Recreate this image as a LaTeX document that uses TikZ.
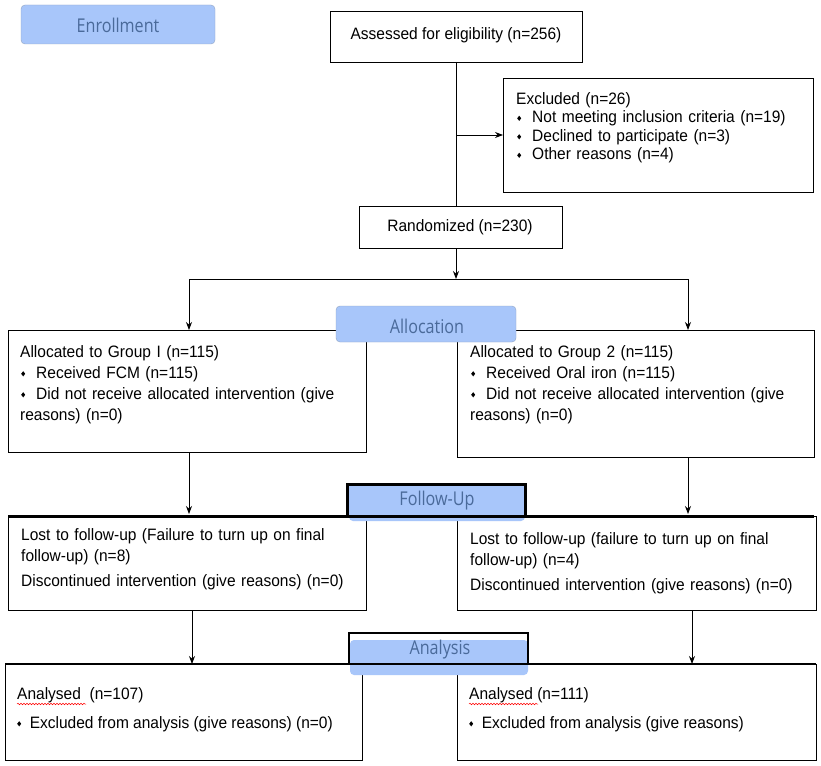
\documentclass[tikz,border=0pt]{standalone}
\usepackage{fontspec}
\setmainfont{Liberation Sans}[FakeStretch=0.94]
\newfontfamily\labfont{Open Sans}[FakeStretch=0.85]
\usetikzlibrary{arrows.meta,decorations.pathmorphing}
\definecolor{lab}{HTML}{A8C6FA}
\definecolor{labtxt}{HTML}{4A6A9A}
\newcommand{\dia}{\tikz[baseline=-0.5ex]\fill (0,2.6pt)--(2pt,0)--(0,-2.6pt)--(-2pt,0)--cycle;}
\newcommand{\itm}[1]{\par\hangindent=16pt\hangafter=1\makebox[16pt][l]{\hspace{1pt}\dia}#1}
\begin{document}
\begin{tikzpicture}[x=1pt,y=-1pt,
  box/.style={draw,line width=0.8pt,fill=white},
  txt/.style={anchor=north west,align=left,font=\fontsize{16.5}{21}\selectfont,inner sep=0pt},
  lbl/.style={draw=labtxt!60,fill=lab,rounded corners=4pt},
  lt/.style={text=labtxt,font=\labfont\fontsize{19}{22}\selectfont},
  arr/.style={-{Stealth[length=8pt,width=6pt]},line width=0.8pt},
  ln/.style={line width=0.8pt}]
\useasboundingbox (0,0) rectangle (821,765);
% enrollment
\draw[lbl] (21,5) rectangle (215,44);
\node[lt] (enr) at (118,25) {Enrollment};
% assessed
\draw[box] (330,11) rectangle (582,62); \coordinate (asb) at (456,62);
\node[txt,anchor=center] (ass) at (456,35) {Assessed for eligibility (n=256)};
\draw[box] (503,78) rectangle (813,192); \coordinate (exl) at (503,135);
\node[txt,text width=290pt,font=\fontsize{16.5}{18.5}\selectfont] (exc) at (516,92) {Excluded (n=26)\itm{Not meeting inclusion criteria (n=19)}\itm{Declined to participate (n=3)}\itm{Other reasons (n=4)}};
\draw[box] (359,206) rectangle (562,248); \coordinate (rt) at (456,206); \coordinate (rb) at (456,248);
\node[txt,anchor=center] (ran) at (460,227) {Randomized (n=230)};
\draw[ln] (asb) -- (rt);
\coordinate (br) at (456,135);
\draw[arr] (br) -- (exl);
\coordinate (hj) at (456,279);
\draw[arr] (rb) -- (hj);
\coordinate (hl) at (189,279); \coordinate (hr) at (688,279);
\coordinate (g1t) at (189,330); \coordinate (g2t) at (688,330);
\draw[arr] (hr) -- (g2t);
\draw[arr] (hr) -- (hl) -- (g1t);
% group boxes
\draw[box] (8,330) rectangle (366,452);
\draw[box] (457,330) rectangle (814,457);
\draw[lbl] (336,306) rectangle (516,342);
\node[lt] (alo) at (427,326) {Allocation};
\node[txt,text width=338pt] (g1) at (20,345) {Allocated to Group I (n=115)\itm{Received FCM (n=115)}\itm{Did not receive allocated intervention (give reasons) (n=0)}};
\node[txt,text width=334pt] (g2) at (470,345) {Allocated to Group 2 (n=115)\itm{Received Oral iron (n=115)}\itm{Did not receive allocated intervention (give reasons) (n=0)}};
% follow-up
\coordinate (f1t) at (189,514); \coordinate (f2t) at (688,514);
\draw[arr] (189,452) -- (f1t);
\draw[arr] (688,457) -- (f2t);
\draw[box] (8,516) rectangle (366,610);
\draw[box] (457,516) rectangle (816,610);
\fill[lab,rounded corners=4pt] (349,490) rectangle (525,521);
\draw[line width=3pt] (8,516) -- (814,516);
\draw[line width=3pt,fill=lab] (347,484) rectangle (525,516);
\node[lt] (fol) at (437,501) {Follow-Up};
\node[txt,text width=325pt] (f1) at (21,528) {Lost to follow-up (Failure to turn up on final follow-up) (n=8)\\[4pt]Discontinued intervention (give reasons) (n=0)};
\node[txt,text width=325pt] (f2) at (470,532) {Lost to follow-up (failure to turn up on final follow-up) (n=4)\\[4pt]Discontinued intervention (give reasons) (n=0)};
% analysis
\coordinate (a1t) at (192,664); \coordinate (a2t) at (692,664);
\draw[arr] (192,610) -- (a1t);
\draw[arr] (692,610) -- (a2t);
\draw[box] (5,664) rectangle (362,760);
\draw[box] (457,664) rectangle (816,760);
\fill[lab,rounded corners=4pt] (350,640) rectangle (528,675);
\draw[line width=2pt] (5,664) -- (816,664);
\draw[line width=2.5pt] (349,664) -- (349,633) -- (528,633) -- (528,664);
\node[lt] (ana) at (440,650) {Analysis};
\node[txt] (a1) at (17,687) {Analysed\ \ (n=107)\\[8pt]\dia\ \ Excluded from analysis (give reasons) (n=0)};
\node[txt] (a2) at (469,687) {Analysed (n=111)\\[8pt]\dia\ \ Excluded from analysis (give reasons)};
\draw[red,line width=0.5pt,decorate,decoration={snake,amplitude=0.8pt,segment length=3pt}] (17,704) -- (86,704);
\draw[red,line width=0.5pt,decorate,decoration={snake,amplitude=0.8pt,segment length=3pt}] (469,704) -- (538,704);
\end{tikzpicture}
\end{document}
